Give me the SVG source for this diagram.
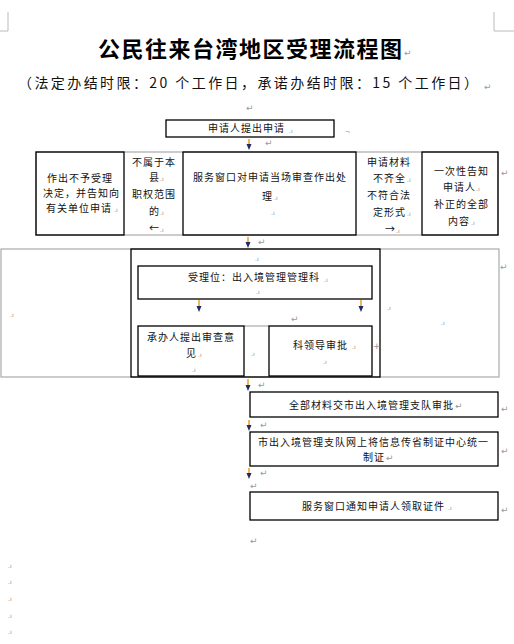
<svg xmlns="http://www.w3.org/2000/svg" width="514" height="644" viewBox="0 0 514 644">
<style>
.t{font-family:"Noto Sans CJK SC","Noto Sans",sans-serif;font-size:10px;letter-spacing:1px;fill:#111}
.ti{font-family:"Noto Sans CJK SC",sans-serif;font-size:22px;font-weight:bold;letter-spacing:1.5px;fill:#000}
.st{font-family:"Noto Sans CJK SC",sans-serif;font-size:14px;fill:#111}
.pm{font-family:"DejaVu Sans",sans-serif;font-size:9px;fill:#999}
.cm{font-family:"DejaVu Sans",sans-serif;font-size:6px;fill:#888}
.bx{fill:none;stroke:#000;stroke-width:1.3}
.gr{fill:none;stroke:#aaa;stroke-width:1.2}
.ar{stroke:#f0a030;stroke-width:1.6;fill:none;marker-end:url(#ah)}
</style>
<defs>
<marker id="ah" markerWidth="6" markerHeight="6" refX="3" refY="3" orient="auto" markerUnits="userSpaceOnUse">
<path d="M0,0.5 L6,3 L0,5.5 Z" fill="#1f2a60"/>
</marker>
</defs>
<rect width="514" height="644" fill="#fff"/>
<g id="corners" stroke="#bbb" stroke-width="1" fill="none">
<path d="M0,31 H8 V12"/>
<path d="M514,31 H494 V12"/>
</g>
<g id="title">
<text class="ti" x="98" y="57">公民往来台湾地区受理流程图</text>
<text class="pm" x="404" y="56">↵</text>
<text class="st" x="18" y="88" textLength="460" lengthAdjust="spacing">（法定办结时限：20 个工作日，承诺办结时限：15 个工作日）</text>
<text class="pm" x="484" y="90">↵</text>
</g>
<g id="tables">
<rect class="gr" x="36" y="152" width="462" height="83"/>
<rect class="gr" x="1" y="249" width="498" height="128"/>
<line class="gr" x1="244" y1="326" x2="269" y2="326"/>
</g>
<g id="n1">
<text class="pm" x="246" y="111">↵</text>
<rect class="bx" x="166" y="120" width="168" height="17"/>
<text class="t" x="208" y="132">申请人提出申请</text>
<text class="cm" x="289" y="133">.ı</text>
<text class="cm" x="345" y="134">¬</text>
</g>
<g id="n2">
<rect class="bx" x="36" y="152" width="88" height="83"/>
<text class="t" x="47" y="182">作出不予受理</text>
<text class="t" x="43" y="197">决定，并告知向</text>
<text class="t" x="46" y="212">有关单位申请</text>
<text class="cm" x="114" y="212">.ı</text>
</g>
<g id="n3">
<text class="t" x="132" y="166">不属于本</text>
<text class="t" x="149" y="181">县</text>
<text class="cm" x="160" y="181">.ı</text>
<text class="t" x="132" y="198">职权范围</text>
<text class="t" x="149" y="215">的</text>
<text class="cm" x="160" y="215">.ı</text>
<text class="t" x="149" y="232">←</text>
<text class="cm" x="160" y="232">.ı</text>
</g>
<g id="n4">
<rect class="bx" x="183" y="152" width="173" height="83"/>
<text class="t" x="193" y="181">服务窗口对申请当场审查作出处</text>
<text class="t" x="262" y="200">理</text>
<text class="cm" x="274" y="200">.ı</text>
<text class="cm" x="271" y="215">.ı</text>
</g>
<g id="n5">
<text class="t" x="367" y="166">申请材料</text>
<text class="t" x="373" y="182">不齐全</text>
<text class="cm" x="407" y="182">.ı</text>
<text class="t" x="367" y="199">不符合法</text>
<text class="t" x="373" y="216">定形式</text>
<text class="cm" x="407" y="216">.ı</text>
<text class="t" x="385" y="233">→</text>
<text class="cm" x="396" y="233">.ı</text>
</g>
<g id="n6">
<rect class="bx" x="422" y="152" width="76" height="83"/>
<text class="t" x="434" y="175">一次性告知</text>
<text class="t" x="443" y="191">申请人</text>
<text class="cm" x="476" y="191">.ı</text>
<text class="t" x="434" y="208">补正的全部</text>
<text class="t" x="448" y="225">内容</text>
<text class="cm" x="471" y="225">.ı</text>
<text class="pm" x="501" y="176">↵</text>
</g>
<g id="n7">
<rect class="bx" x="131" y="249" width="249" height="128"/>
<text class="cm" x="10" y="317">.ı</text>
<text class="cm" x="255" y="261">.ı</text>
<text class="cm" x="387" y="310">.ı</text>
<text class="cm" x="441" y="325">.ı</text>
<text class="pm" x="500" y="270">↵</text>
<text class="cm" x="251" y="356">.ı</text>
</g>
<g id="n8">
<rect class="bx" x="138" y="266" width="234" height="33"/>
<text class="t" x="188" y="281">受理位：出入境管理管理科</text>
<text class="cm" x="324" y="282">.ı</text>
<text class="cm" x="256" y="294">.ı</text>
</g>
<g id="n9">
<rect class="bx" x="138" y="326" width="106" height="50"/>
<text class="t" x="147" y="341">承办人提出审查意</text>
<text class="t" x="186" y="357">见</text>
<text class="cm" x="198" y="357">.ı</text>
<text class="cm" x="192" y="372">.ı</text>
</g>
<g id="n10">
<rect class="bx" x="269" y="326" width="103" height="50"/>
<text class="t" x="293" y="349">科领导审批</text>
<text class="cm" x="352" y="349">.ı</text>
<text class="cm" x="323" y="364">.ı</text>
<text class="pm" x="373" y="349">+</text>
</g>
<g id="n11">
<rect class="bx" x="250" y="392" width="248" height="25"/>
<text class="t" x="289" y="409">全部材料交市出入境管理支队审批</text>
<text class="pm" x="455" y="409">↵</text>
<text class="pm" x="501" y="412">↵</text>
</g>
<g id="n12">
<rect class="bx" x="250" y="432" width="248" height="34"/>
<text class="t" x="258" y="446">市出入境管理支队网上将信息传省制证中心统一</text>
<text class="t" x="363" y="461">制证</text>
<text class="pm" x="386" y="461">↵</text>
<text class="pm" x="501" y="454">↵</text>
</g>
<g id="n13">
<text class="pm" x="250" y="489">↵</text>
<rect class="bx" x="250" y="492" width="248" height="28"/>
<text class="t" x="302" y="510">服务窗口通知申请人领取证件</text>
<text class="cm" x="448" y="510">.ı</text>
<text class="pm" x="501" y="513">↵</text>
<text class="pm" x="250" y="544">↵</text>
</g>
<g id="marks">
<text class="cm" x="8" y="568">.ı</text>
<text class="cm" x="8" y="584">.ı</text>
<text class="cm" x="8" y="601">.ı</text>
<text class="cm" x="8" y="618">.ı</text>
<text class="cm" x="8" y="634">.ı</text>
</g>
<g id="connectors">
<path class="ar" d="M249,139 V147"/>
<text class="pm" x="265" y="146">↵</text>
<path class="ar" d="M248,237 V245"/>
<text class="pm" x="258" y="245">↵</text>
<path class="ar" d="M199,300 V309"/>
<path class="ar" d="M361,300 V309"/>
<text class="pm" x="291" y="322">↵</text>
<path class="ar" d="M248,379 V388"/>
<text class="pm" x="258" y="388">↵</text>
<path class="ar" d="M249,420 V428"/>
<text class="pm" x="260" y="428">↵</text>
<path class="ar" d="M249,468 V476"/>
<text class="pm" x="260" y="476">↵</text>
</g>
</svg>
